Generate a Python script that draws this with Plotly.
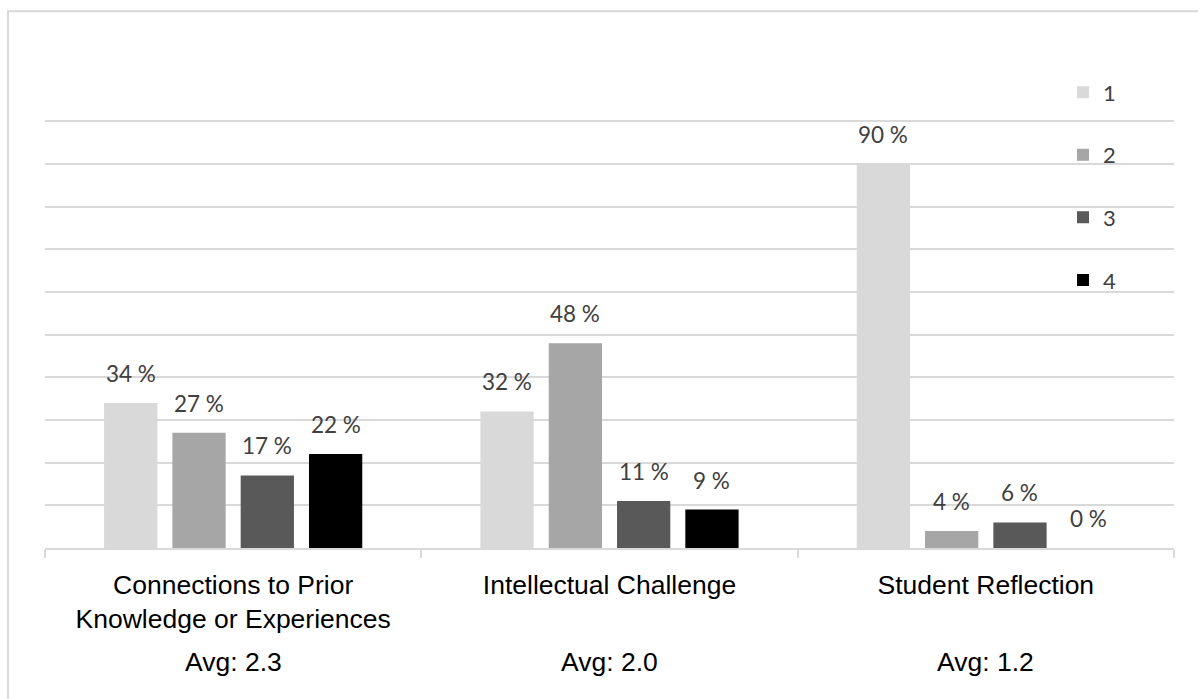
import plotly.graph_objects as go

# ---- data ----
cat_lines = [["Connections to Prior", "Knowledge or Experiences"],
             ["Intellectual Challenge"],
             ["Student Reflection"]]
averages = [2.3, 2.0, 1.2]
series_names = ["1", "2", "3", "4"]
s1 = [34, 32, 90]
s2 = [27, 48, 4]
s3 = [17, 11, 6]
s4 = [22, 9, 0]
series_values = [s1, s2, s3, s4]
colors = ["#d9d9d9", "#a6a6a6", "#595959", "#000000"]

categories = [" ".join(l) for l in cat_lines]
ticktext = ["<br>".join(l) for l in cat_lines]

W, H = 1198, 699
ml, mr, mt, mb = 45, 24, 116.7, 151
plot_w = W - ml - mr
plot_h = H - mt - mb
bargap, bargroupgap = 0.274, 0.22
slot_px = plot_w / len(categories) * (1 - bargap) / len(series_names)

fig = go.Figure()
for name, vals, col in zip(series_names, series_values, colors):
    fig.add_trace(go.Bar(name=name, x=categories, y=vals, marker_color=col,
                         marker_line_width=0, legendgroup=name))

annotations = []
n = len(series_names)
for i, vals in enumerate(series_values):
    for c, v in zip(categories, vals):
        annotations.append(dict(
            x=c, y=v, xref="x", yref="y", text=f"{v} %", showarrow=False,
            yanchor="bottom", xanchor="center",
            xshift=(i - (n - 1) / 2) * slot_px, yshift=14,
            font=dict(family="Lato", size=22.5, color="#404040")))

for c, a in zip(categories, averages):
    annotations.append(dict(
        x=c, y=0, xref="x", yref="y", text=f"Avg: {a:.1f}", showarrow=False,
        yanchor="middle", xanchor="center", yshift=-114,
        font=dict(family="Liberation Sans", size=26.5, color="black")))

fig.update_layout(
    width=W, height=H,
    margin=dict(l=ml, r=mr, t=mt, b=mb),
    paper_bgcolor="white", plot_bgcolor="white",
    barmode="group", bargap=bargap, bargroupgap=bargroupgap,
    showlegend=True,
    legend=dict(x=(1063 - ml) / plot_w, xanchor="left",
                y=(H - mb - 71) / plot_h, yanchor="top",
                font=dict(family="Lato", size=22, color="#404040"),
                tracegroupgap=31, bgcolor="rgba(0,0,0,0)", itemwidth=30),
    annotations=annotations,
    shapes=[dict(type="rect", xref="paper", yref="paper",
                 x0=(8 - ml) / plot_w, x1=(W + 40 - ml) / plot_w,
                 y0=(H - mb - (H + 40)) / plot_h, y1=(H - mb - 11) / plot_h,
                 line=dict(color="#d9d9d9", width=2), layer="below")],
    xaxis=dict(tickmode="array", tickvals=categories, ticktext=ticktext,
               showline=True, linecolor="#d9d9d9", linewidth=2,
               ticks="outside", tickson="boundaries", ticklen=8, tickwidth=2,
               tickcolor="#d9d9d9", ticklabelstandoff=12,
               tickfont=dict(family="Liberation Sans", size=26.5, color="black"),
               showgrid=False),
    yaxis=dict(range=[0, 101], dtick=10, showgrid=True, gridcolor="#d9d9d9",
               gridwidth=2, showticklabels=False, zeroline=False,
               showline=False, ticks=""),
)

fig.write_html("out.html")
